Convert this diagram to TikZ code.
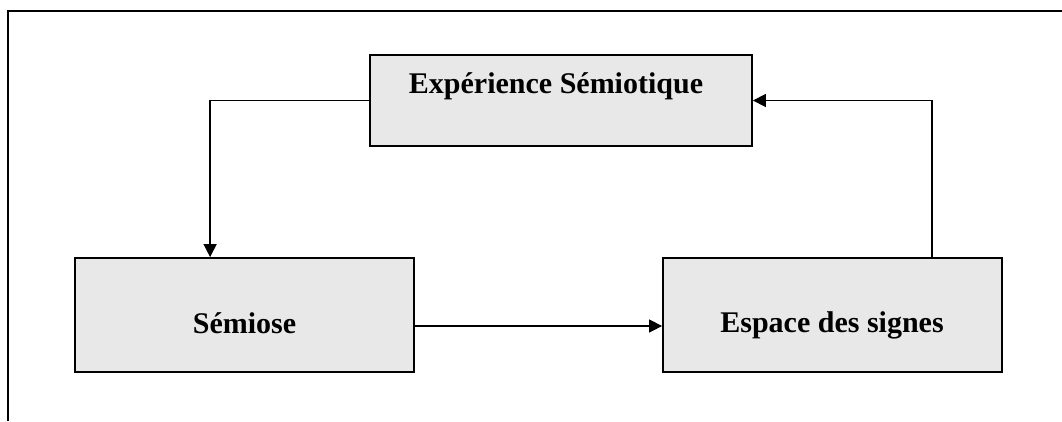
\documentclass[tikz,border=0pt]{standalone}
\usepackage{fontspec}
\setmainfont{Liberation Serif}
\usetikzlibrary{arrows.meta}
\definecolor{boxgray}{HTML}{E8E8E8}
\begin{document}
\begin{tikzpicture}[x=1pt,y=-1pt,
  box/.style={draw=black, line width=1.8pt, fill=boxgray, inner sep=0pt, anchor=center},
  lbl/.style={font=\fontsize{30}{36}\selectfont\bfseries, inner sep=0pt, anchor=base},
  conn/.style={draw=black, line width=1.4pt, -{Triangle[length=13pt,width=13pt]}}]
  \useasboundingbox (0,0) rectangle (1062,421);

  % open frame: top and left sides only
  \draw[line width=2.2pt] (8,421) -- (8,11) -- (1062,11);

  % boxes
  \node[box, minimum width=382pt, minimum height=91pt]  (exp) at (561,100.5) {};
  \node[box, minimum width=339pt, minimum height=114pt] (sem) at (244.5,315) {};
  \node[box, minimum width=339pt, minimum height=114pt] (esp) at (832.5,315) {};

  % labels
  \node[lbl] (expl) at (556,93)    {Expérience Sémiotique};
  \node[lbl] (seml) at (244.5,333) {Sémiose};
  \node[lbl] (espl) at (832,332.5) {Espace des signes};

  % connectors
  \draw[conn] (exp.west) -| ([xshift=136pt]sem.north west);
  \draw[conn] ([yshift=-11pt]sem.east) -- ([yshift=-11pt]esp.west);
  \draw[conn] ([xshift=270pt]esp.north west) |- (exp.east);
\end{tikzpicture}
\end{document}
